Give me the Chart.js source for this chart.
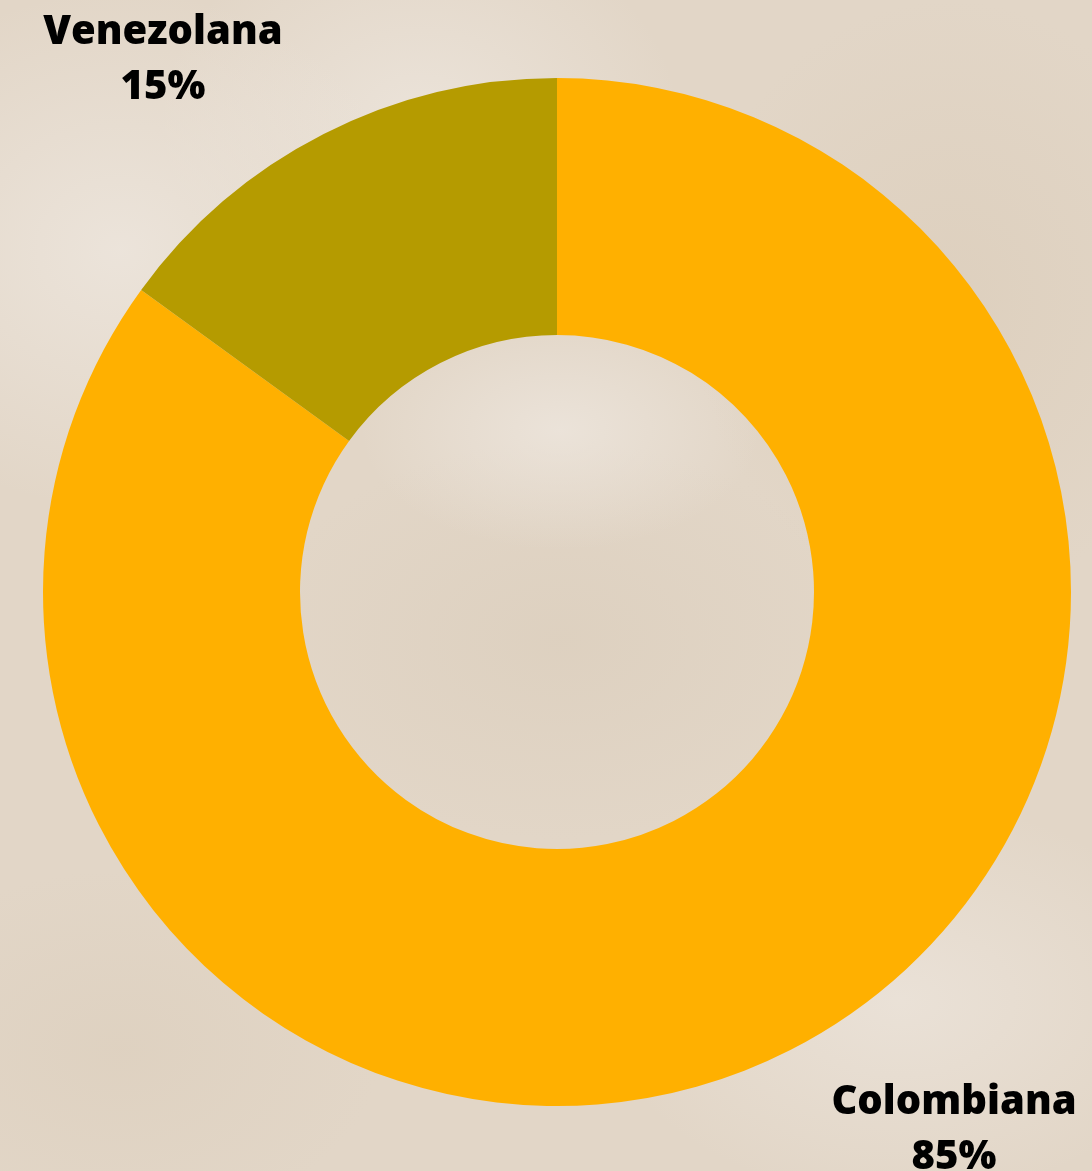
<!DOCTYPE html>
<html>
<head>
<meta charset="utf-8">
<title>Nacionalidad</title>
<script src="https://cdn.jsdelivr.net/npm/chart.js"></script>
<style>
  html, body {
    margin: 0;
    padding: 0;
    overflow: hidden;
  }
  body {
    width: 1092px;
    height: 1171px;
    background-color: #e2d6c7;
    background-image:
      radial-gradient(ellipse 300px 260px at 120px 250px, rgba(238, 231, 223, 0.8), rgba(238, 231, 223, 0) 100%),
      radial-gradient(ellipse 260px 200px at 420px 120px, rgba(238, 231, 223, 0.75), rgba(238, 231, 223, 0) 100%),
      radial-gradient(ellipse 200px 120px at 560px 430px, rgba(238, 231, 223, 0.75), rgba(238, 231, 223, 0) 100%),
      radial-gradient(ellipse 260px 300px at 950px 300px, rgba(221, 207, 189, 0.9), rgba(221, 207, 189, 0) 100%),
      radial-gradient(ellipse 300px 200px at 560px 640px, rgba(221, 208, 191, 0.9), rgba(221, 208, 191, 0) 100%),
      radial-gradient(ellipse 260px 180px at 120px 1050px, rgba(222, 209, 192, 0.9), rgba(222, 209, 192, 0) 100%),
      radial-gradient(ellipse 300px 200px at 900px 1000px, rgba(236, 228, 219, 0.8), rgba(236, 228, 219, 0) 100%);
  }
  #wrap {
    position: absolute;
    left: 0;
    top: 0;
    width: 1092px;
    height: 1171px;
  }
</style>
</head>
<body>
<div id="wrap">
  <canvas id="donutChart" width="1092" height="1171"></canvas>
</div>
<script>
const labels = ['Colombiana', 'Venezolana'];
const values = [85, 15];
const colors = ['#ffb000', '#b59b00'];

// Labels drawn at the corners next to the ring, as in the original graphic
const cornerLabels = {
    id: 'cornerLabels',
    afterDraw(chart) {
        const ctx = chart.ctx;
        const area = chart.chartArea;
        const total = values.reduce((a, b) => a + b, 0);
        ctx.save();
        ctx.fillStyle = '#000000';
        ctx.font = '800 40px "Open Sans"';
        ctx.textAlign = 'center';
        ctx.textBaseline = 'alphabetic';

        // Venezolana: top left
        const pctV = Math.round(values[1] / total * 100) + '%';
        ctx.fillText(labels[1], area.left + 120, area.top - 34);
        ctx.fillText(pctV, area.left + 120, area.top + 21);

        // Colombiana: bottom right
        const pctC = Math.round(values[0] / total * 100) + '%';
        ctx.fillText(labels[0], area.right - 117, area.bottom + 8);
        ctx.fillText(pctC, area.right - 117, area.bottom + 63);
        ctx.restore();
    }
};

new Chart(document.getElementById('donutChart'), {
    type: 'doughnut',
    data: {
        labels: labels,
        datasets: [{
            data: values,
            backgroundColor: colors,
            borderWidth: 0
        }]
    },
    options: {
        responsive: false,
        animation: false,
        cutout: '50%',
        rotation: 0,
        layout: {
            padding: { left: 43, right: 21, top: 78, bottom: 65 }
        },
        plugins: {
            legend: { display: false },
            tooltip: { enabled: false }
        }
    },
    plugins: [cornerLabels]
});
</script>
</body>
</html>
